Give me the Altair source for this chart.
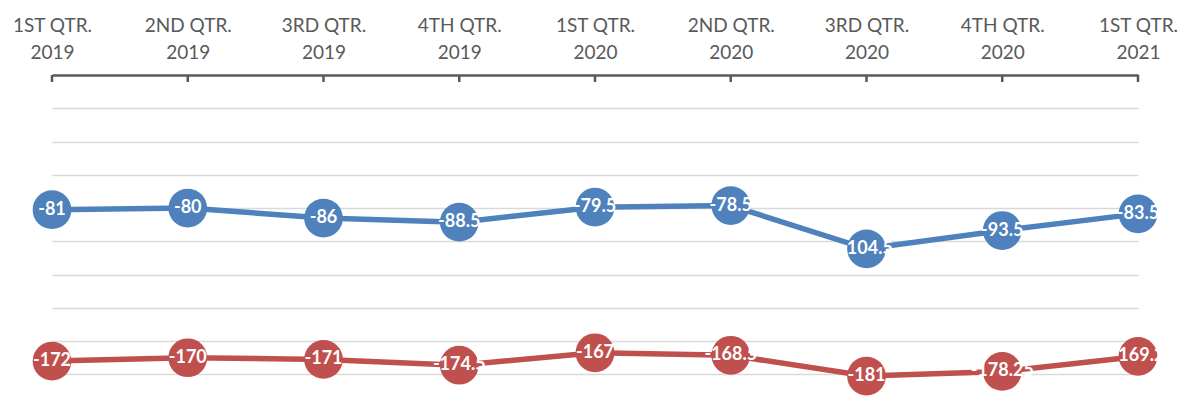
import altair as alt
import pandas as pd

quarters = ["1ST QTR.|2019", "2ND QTR.|2019", "3RD QTR.|2019", "4TH QTR.|2019",
            "1ST QTR.|2020", "2ND QTR.|2020", "3RD QTR.|2020", "4TH QTR.|2020",
            "1ST QTR.|2021"]
blue_values = [-81, -80, -86, -88.5, -79.5, -78.5, -104.5, -93.5, -83.5]
red_values = [-172, -170, -171, -174.5, -167, -168.5, -181, -178.25, -169.2]
series_names = ["Series 1", "Series 2"]
series_colors = ["#4F81BD", "#C0504D"]
grid_values = [-20, -40, -60, -80, -100, -120, -140, -160, -180]

rows = []
for name, vals in zip(series_names, [blue_values, red_values]):
    for q, v in zip(quarters, vals):
        rows.append({"quarter": q, "value": v, "series": name, "label": f"{v:g}"})
df = pd.DataFrame(rows)

FONT = "Lato"

x_enc = alt.X("quarter:N", sort=quarters,
              scale=alt.Scale(type="point", padding=0),
              axis=alt.Axis(orient="top", title=None, ticks=False, grid=False,
                            labelExpr="split(datum.value, '|')",
                            labelAngle=0, labelFont=FONT, labelFontSize=19,
                            labelColor="#595959", labelLineHeight=27,
                            labelPadding=40, domainColor="#595959",
                            domainWidth=2.5, labelBound=False, labelOverlap=False))
y_enc = alt.Y("value:Q", scale=alt.Scale(domain=[-196, 0], nice=False, zero=False),
              axis=alt.Axis(title=None, labels=False, ticks=False, domain=False,
                            grid=True, values=grid_values, gridColor="#d9d9d9",
                            gridWidth=1.5))
color_enc = alt.Color("series:N", scale=alt.Scale(domain=series_names, range=series_colors),
                      legend=None)

base = alt.Chart(df)

lines = base.mark_line(strokeWidth=5.5).encode(x=x_enc, y=y_enc, color=color_enc)
points = base.mark_point(filled=True, opacity=1, size=1500).encode(
    x=alt.X("quarter:N", sort=quarters), y="value:Q", color=color_enc)
texts = base.mark_text(color="white", font=FONT, fontWeight="bold", fontSize=18,
                       baseline="middle").encode(
    x=alt.X("quarter:N", sort=quarters), y="value:Q", text="label:N")

tick_df = pd.DataFrame({"quarter": quarters, "value": [0] * len(quarters)})
ticks = alt.Chart(tick_df).mark_tick(orient="vertical", size=7, thickness=2.5,
                                     yOffset=3.5, color="#595959", opacity=1).encode(
    x=alt.X("quarter:N", sort=quarters), y="value:Q")

chart = alt.layer(lines, ticks, points, texts).properties(
    width=1086, height=326,
    autosize=alt.AutoSizeParams(type="none"),
    padding={"left": 44, "top": 67, "right": 40, "bottom": 0},
).configure(background="white", view=alt.ViewConfig(strokeWidth=0, stroke="transparent"))

chart.save("out.html", embed_options={"renderer": "svg", "actions": False})
